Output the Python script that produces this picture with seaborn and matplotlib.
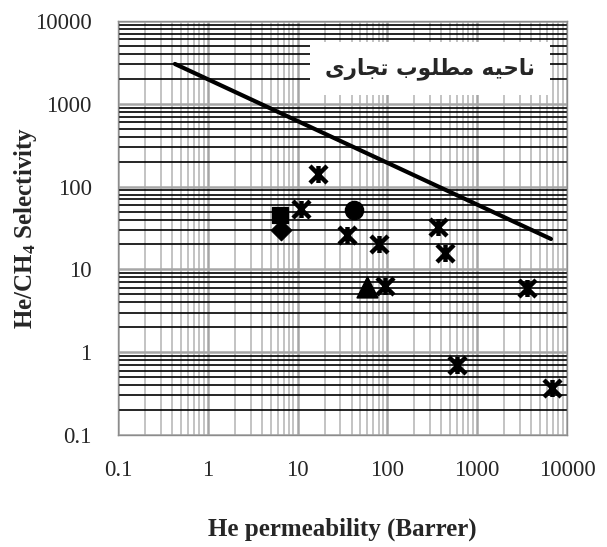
import matplotlib
matplotlib.use("Agg")
import matplotlib.pyplot as plt
import matplotlib.ticker as mticker
from matplotlib.path import Path
import seaborn as sns
import pandas as pd

# ---------------- data ----------------
star_perm = [16.9, 10.9, 35.5, 80.5, 94, 366, 437, 3590, 596, 6800]
star_sel = [142, 53.6, 26, 20.3, 6.3, 32.5, 15.8, 5.96, 0.70, 0.37]
square_perm = [6.4]
square_sel = [45.4]
diamond_perm = [6.6]
diamond_sel = [30]
circle_perm = [42.5]
circle_sel = [52]
triangle_perm = [59]
triangle_sel = [6.1]
bound_perm = [0.43, 6640]
bound_sel = [3030, 23.3]
tick_values = [0.1, 1, 10, 100, 1000, 10000]
tick_labels = ["0.1", "1", "10", "100", "1000", "10000"]
x_label = "He permeability (Barrer)"
y_label = "He/CH$_4$ Selectivity"
# "ناحیه مطلوب تجاری" written with presentation forms in visual order
region_text = "\uFBFC\uFEAD\uFE8E\uFEA0\uFE97 \uFE8F\uFEEE\uFEE0\uFEC4\uFEE3 \uFEEA\uFBFF\uFEA3\uFE8E\uFEE7"

sns.set_style("white")
plt.rcParams["font.family"] = ["Liberation Serif", "DejaVu Serif"]
plt.rcParams["mathtext.fontset"] = "custom"
plt.rcParams["mathtext.rm"] = "Liberation Serif:bold"
plt.rcParams["mathtext.default"] = "rm"

fig = plt.figure(figsize=(6.07, 5.47), dpi=100)
ax = fig.add_axes([118/607, 1-435/547, 449/607, 414/547])
ax.set_xscale("log")
ax.set_yscale("log")
ax.set_xlim(0.1, 10000)
ax.set_ylim(0.1, 10000)

# grid
ax.xaxis.set_major_locator(mticker.FixedLocator(tick_values))
ax.yaxis.set_major_locator(mticker.FixedLocator(tick_values))
ax.xaxis.set_minor_locator(mticker.LogLocator(base=10, subs=range(2, 10), numticks=20))
ax.yaxis.set_minor_locator(mticker.LogLocator(base=10, subs=range(2, 10), numticks=20))
ax.grid(which="minor", axis="x", color="#b3b3b3", lw=1.1, zorder=0)
ax.grid(which="minor", axis="y", color="black", lw=1.2, zorder=0)
ax.grid(which="major", axis="both", color="#a6a6a6", lw=1.8, zorder=0)
ax.set_axisbelow(True)
ax.tick_params(which="minor", length=0)
ax.tick_params(which="major", axis="x", length=0, pad=18, labelsize=16.5)
ax.tick_params(which="major", axis="y", length=4, color="#808080", pad=15, labelsize=16.5)
ax.set_xticklabels(tick_labels)
ax.set_yticklabels(tick_labels)
for s in ax.spines.values():
    s.set_color("#8c8c8c")
    s.set_linewidth(1.0)

# text box region
ax.text(0.695, 0.885, region_text, transform=ax.transAxes, ha="center", va="center",
        fontsize=15.5, fontweight="bold", family=["DejaVu Sans"], zorder=4,
        bbox=dict(boxstyle="square,pad=0.72", fc="white", ec="none"))

# bound line
sns.lineplot(x=bound_perm, y=bound_sel, ax=ax, color="black", lw=3, zorder=5)

# star marker: X plus vertical bar
star = Path([(-1, -1), (1, 1), (-1, 1), (1, -1), (0, -1), (0, 1)],
            [Path.MOVETO, Path.LINETO, Path.MOVETO, Path.LINETO, Path.MOVETO, Path.LINETO])

sns.scatterplot(x=star_perm, y=star_sel, ax=ax, marker=star, s=150,
                color="black", edgecolor="black", linewidth=3.2, zorder=6)
sns.scatterplot(x=square_perm, y=square_sel, ax=ax, marker="s", s=120,
                color="black", edgecolor="black", zorder=6)
sns.scatterplot(x=diamond_perm, y=diamond_sel, ax=ax, marker="D", s=110,
                color="black", edgecolor="black", zorder=6)
sns.scatterplot(x=circle_perm, y=circle_sel, ax=ax, marker="o", s=170,
                color="black", edgecolor="black", zorder=6)
sns.scatterplot(x=triangle_perm, y=triangle_sel, ax=ax, marker="^", s=220,
                color="black", edgecolor="black", zorder=6)

ax.set_xlabel(x_label, fontsize=18, fontweight="bold", labelpad=26)
ax.set_ylabel(y_label, fontsize=18, fontweight="bold")
ax.yaxis.set_label_coords(-0.175, 0.5)

fig.savefig("out.png", dpi=100)
